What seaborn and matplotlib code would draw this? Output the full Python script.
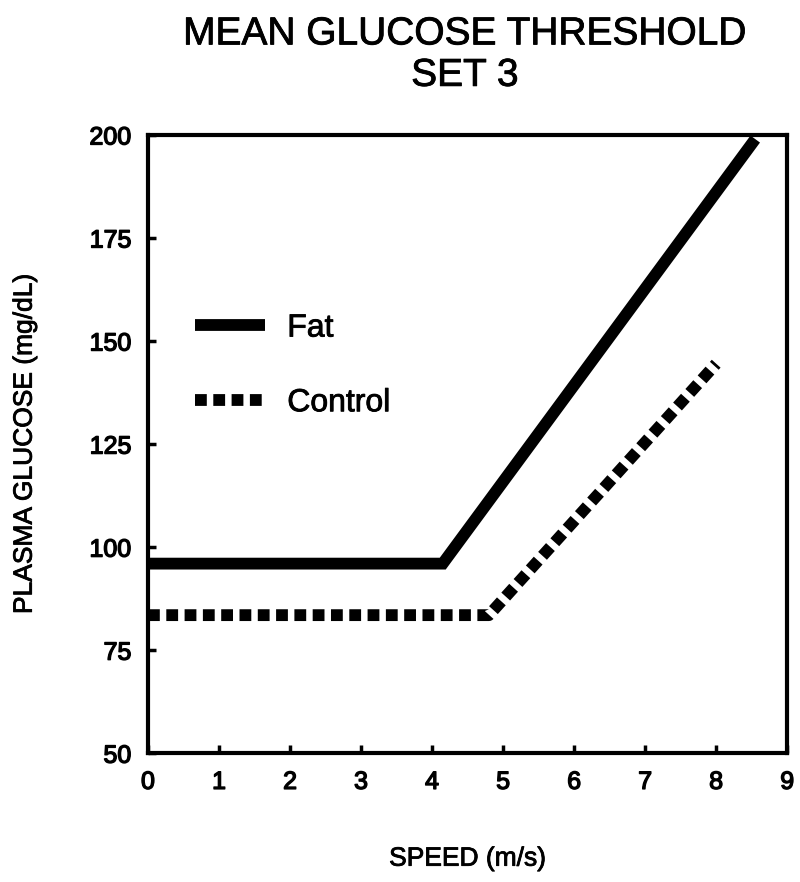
import matplotlib
matplotlib.use("Agg")
import matplotlib.pyplot as plt
import matplotlib.patheffects as pe
import seaborn as sns
import pandas as pd
from matplotlib.lines import Line2D

# Threshold model: flat baseline, then linear rise with speed
fat_speed = [0.0, 4.15, 8.55]
fat_glucose = [96.0, 96.0, 199.0]
control_speed = [0.0, 4.8, 8.0]
control_glucose = [83.5, 83.5, 144.5]

x_ticks = [0, 1, 2, 3, 4, 5, 6, 7, 8, 9]
y_ticks = [50, 75, 100, 125, 150, 175, 200]

df = pd.concat([
    pd.DataFrame({"speed": fat_speed, "glucose": fat_glucose, "group": "Fat"}),
    pd.DataFrame({"speed": control_speed, "glucose": control_glucose, "group": "Control"}),
])

sns.set_theme(style="white")
plt.rcParams["font.family"] = ["Liberation Sans", "DejaVu Sans"]
plt.rcParams["text.color"] = "black"
plt.rcParams["axes.labelcolor"] = "black"

# slightly heavier than regular, lighter than bold
MEDIUM = [pe.withStroke(linewidth=0.6, foreground="black")]
HEAVY = [pe.withStroke(linewidth=1.0, foreground="black")]

fig = plt.figure(figsize=(8.0, 8.82), dpi=100)
ax = fig.add_axes([0.185, 0.146, 0.799, 0.701])

LW = 8.5
sns.lineplot(data=df, x="speed", y="glucose", hue="group", style="group",
             palette={"Fat": "black", "Control": "black"},
             dashes={"Fat": "", "Control": (1.0, 0.55)},
             linewidth=LW, sort=False, estimator=None, ax=ax, legend=False)
for line in ax.lines:
    line.set_solid_capstyle("butt")
    line.set_dash_capstyle("butt")
    line.set_solid_joinstyle("miter")

ax.set_xlim(0, 9)
ax.set_ylim(50, 200)
ax.set_xticks(x_ticks)
ax.set_yticks(y_ticks)
ax.tick_params(direction="in", length=6, width=2.5, labelsize=18, pad=12,
               bottom=True, left=True, colors="black")
for lbl in ax.get_xticklabels() + ax.get_yticklabels():
    lbl.set_path_effects(HEAVY)
for sp in ax.spines.values():
    sp.set_linewidth(3)
    sp.set_color("black")

ax.set_xlabel("SPEED (m/s)", fontsize=19, labelpad=38, path_effects=MEDIUM)
ax.set_ylabel("PLASMA GLUCOSE (mg/dL)", fontsize=19, labelpad=38, path_effects=MEDIUM)

# Legend handles drawn as short line samples with labels
handles = [Line2D([], [], color="black", lw=LW, solid_capstyle="butt"),
           Line2D([], [], color="black", lw=LW, linestyle=(0, (1.0, 0.55)),
                  dash_capstyle="butt")]
leg = ax.legend(handles, ["Fat", "Control"], loc="upper left",
                bbox_to_anchor=(0.048, 0.737), frameon=False, fontsize=23,
                borderpad=0, handlelength=2.2, handletextpad=0.7, labelspacing=1.4)
for t in leg.get_texts():
    t.set_path_effects(MEDIUM)

fig.text(0.581, 0.961, "MEAN GLUCOSE THRESHOLD", ha="center", va="center",
         fontsize=28, path_effects=MEDIUM)
fig.text(0.581, 0.914, "SET 3", ha="center", va="center",
         fontsize=28, path_effects=MEDIUM)

fig.savefig("out.png", dpi=100, facecolor="white")
